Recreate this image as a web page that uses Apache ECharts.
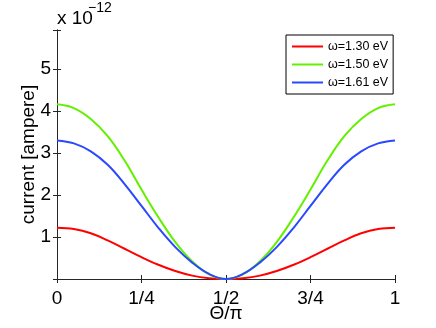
<!DOCTYPE html>
<html>
<head>
<meta charset="utf-8">
<script src="https://cdn.jsdelivr.net/npm/echarts@6/dist/echarts.min.js"></script>
<style>
  html, body { margin: 0; padding: 0; background: #fff; }
  #chart { width: 436px; height: 328px; }
</style>
</head>
<body>
<div id="chart"></div>
<script>
// Θ/π sample positions
const thetaVals = [0, 0.05, 0.1, 0.15, 0.2, 0.25, 0.3, 0.35, 0.4, 0.45, 0.5,
                   0.55, 0.6, 0.65, 0.7, 0.75, 0.8, 0.85, 0.9, 0.95, 1]
// current, units of 1e-12 A
const red130 = [1.22, 1.19, 1.09, 0.92, 0.72, 0.52, 0.34, 0.19, 0.08, 0.02, 0,
                0.02, 0.08, 0.19, 0.34, 0.52, 0.72, 0.92, 1.09, 1.19, 1.22]
const green150 = [4.16, 4.07, 3.81, 3.40, 2.82, 2.13, 1.47, 0.88, 0.42, 0.11, 0,
                  0.11, 0.42, 0.88, 1.47, 2.13, 2.82, 3.40, 3.81, 4.07, 4.16]
const blue161 = [3.30, 3.23, 3.04, 2.72, 2.26, 1.74, 1.22, 0.76, 0.39, 0.12, 0,
                 0.12, 0.39, 0.76, 1.22, 1.74, 2.26, 2.72, 3.04, 3.23, 3.30]
const seriesNames = ['ω=1.30 eV', 'ω=1.50 eV', 'ω=1.61 eV']
const xTickLabels = ['0', '1/4', '1/2', '3/4', '1']
const yTickLabels = [1, 2, 3, 4, 5]

const toPairs = vals => thetaVals.map((t, i) => [t, vals[i]])

const axisCol = '#262626'
const font = 'Liberation Sans, Arial, Helvetica, sans-serif'

const xBase = {
    type: 'value', min: 0, max: 1, interval: 0.25,
    axisLine: { show: true, lineStyle: { color: axisCol, width: 1 } },
    axisTick: { show: true, inside: true, length: 4, lineStyle: { color: axisCol } },
    splitLine: { show: false }
}
const yBase = {
    type: 'value', min: 0, max: 5.93, interval: 1,
    axisLine: { show: true, lineStyle: { color: axisCol, width: 1 } },
    axisTick: { show: true, inside: true, length: 4, lineStyle: { color: axisCol } },
    splitLine: { show: false }
}

const myChart = echarts.init(document.getElementById('chart'))
const option = {
    animation: false,
    backgroundColor: '#fff',
    grid: { left: 57, right: 41, top: 30, bottom: 49, containLabel: false },
    xAxis: [
        Object.assign({}, xBase, {
            position: 'bottom',
            axisLabel: {
                color: '#000', fontFamily: font, fontSize: 19, margin: 10,
                formatter: v => xTickLabels[Math.round(v / 0.25)] || ''
            },
            name: 'Θ/π', nameLocation: 'middle', nameGap: 25,
            nameMoveOverlap: false,
            nameTextStyle: { color: '#000', fontFamily: font, fontSize: 19 }
        }),
        Object.assign({}, xBase, { position: 'top', axisLabel: { show: false } })
    ],
    yAxis: [
        Object.assign({}, yBase, {
            position: 'left',
            axisLabel: {
                color: '#000', fontFamily: font, fontSize: 19, margin: 6,
                formatter: v => yTickLabels.includes(v) ? String(v) : ''
            },
            name: 'current [ampere]', nameLocation: 'middle', nameGap: 19,
            nameMoveOverlap: false,
            nameTextStyle: { color: '#000', fontFamily: font, fontSize: 19 }
        }),
        Object.assign({}, yBase, { position: 'right', axisLabel: { show: false } })
    ],
    legend: {
        orient: 'vertical',
        left: 286, top: 35,
        padding: [5, 5, 5, 6],
        itemGap: 5,
        icon: 'rect',
        itemWidth: 31, itemHeight: 2,
        backgroundColor: '#fff',
        borderColor: '#000', borderWidth: 1, borderRadius: 0,
        textStyle: { color: '#000', fontFamily: font, fontSize: 12.5 },
        data: seriesNames
    },
    graphic: [
        { type: 'text', left: 57, top: 9,
          style: { text: 'x 10', fill: '#000', font: '19px ' + font } },
        { type: 'text', left: 88, top: 1,
          style: { text: '−12', fill: '#000', font: '14px ' + font } }
    ],
    series: [
        { name: seriesNames[0], data: toPairs(red130), color: '#ff0000' },
        { name: seriesNames[1], data: toPairs(green150), color: '#62f000' },
        { name: seriesNames[2], data: toPairs(blue161), color: '#2a48ff' }
    ].map(s => Object.assign({
        type: 'line', smooth: 0.4, symbol: 'none',
        lineStyle: { width: 2 }, xAxisIndex: 0, yAxisIndex: 0
    }, s))
}
myChart.setOption(option)
</script>
</body>
</html>
